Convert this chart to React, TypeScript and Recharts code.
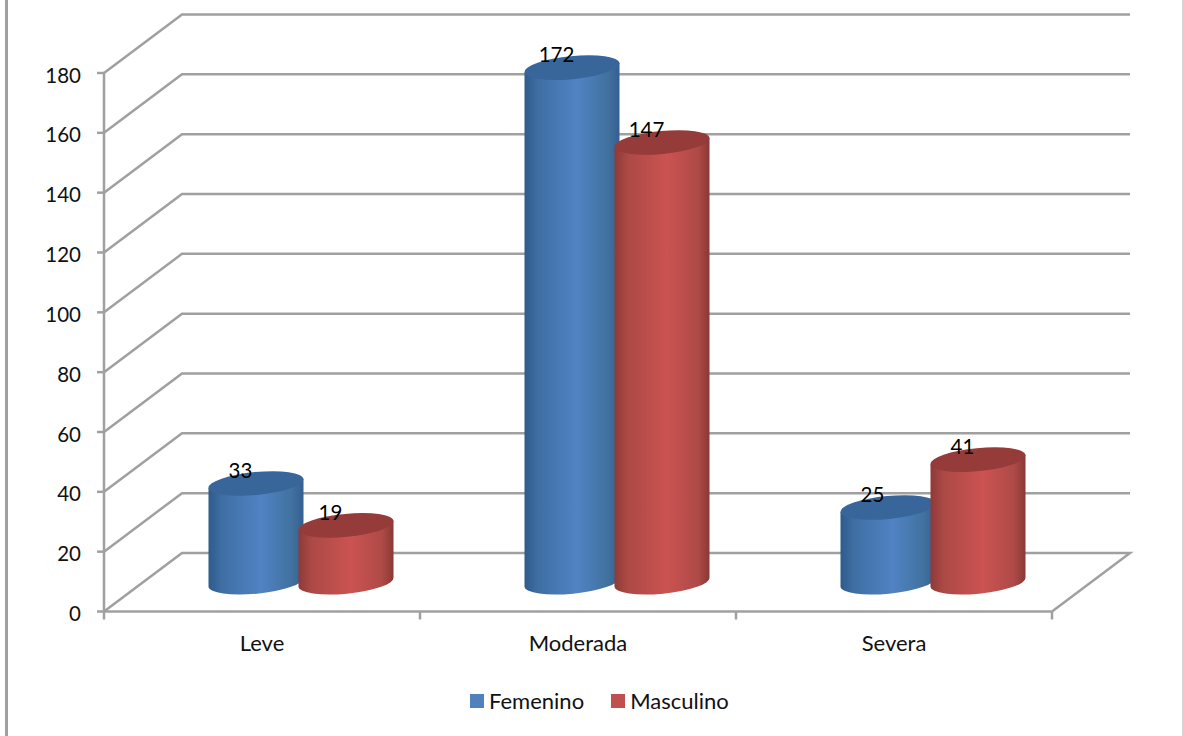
import React from "react";
import { Bar, BarChart, CartesianGrid, LabelList, Legend, XAxis, YAxis } from "recharts";

// ----------------------------- Data -----------------------------
const categories = ["Leve", "Moderada", "Severa"];
const femenino = [33, 172, 25];
const masculino = [19, 147, 41];
const yTicks = [0, 20, 40, 60, 80, 100, 120, 140, 160, 180];

const chartData = categories.map((name, i) => ({
  name,
  Femenino: femenino[i],
  Masculino: masculino[i],
}));

// ----------------------------- Look -----------------------------
const FONT = "Lato, 'Open Sans', sans-serif";
const NUM_SIZE = 20.5;
const TEXT_SIZE = 22;
const LINE = "#a0a0a0";
const LINE_W = 2.5;
const BLUE = "#4f81bd";
const RED = "#c0504d";

// fake 3D: the back wall sits this far up and to the right of the front plane
const DEPTH_X = 78;
const DEPTH_Y = 58.5;
const PLOT_LEFT = 104;
const PLOT_RIGHT = 1052;
const PLOT_TOP = 73;
const PLOT_BOTTOM = 611.5;
const BAND = (PLOT_RIGHT - PLOT_LEFT) / categories.length;
const TILT = 5.5; // degrees

// ----------------------------- Shapes -----------------------------
function GridLine(props: any) {
  const { x1, x2, y1 } = props;
  const backY = y1 - DEPTH_Y;
  const isFloor = Math.abs(y1 - PLOT_BOTTOM) < 1;
  const pts = [`${x1},${y1}`, `${x1 + DEPTH_X},${backY}`, `${x2 + DEPTH_X},${backY}`];
  if (isFloor) pts.push(`${x2},${y1}`);
  return <polyline points={pts.join(" ")} fill="none" stroke={LINE} strokeWidth={LINE_W} />;
}

function Cylinder(props: any) {
  const { x, y, width, height, fill } = props;
  const cx = x + width / 2 + DEPTH_X / 2;
  const topY = y - DEPTH_Y / 2;
  const botY = y + height - DEPTH_Y / 2;
  const rad = (TILT * Math.PI) / 180;
  const rx = width / 2 / Math.cos(rad);
  const ry = 11.5;
  const dx = rx * Math.cos(rad);
  const dy = rx * Math.sin(rad);
  const isBlue = fill === BLUE;
  const body =
    `M${cx - dx},${topY + dy} L${cx - dx},${botY + dy} ` +
    `A${rx},${ry} ${-TILT} 0 0 ${cx + dx},${botY - dy} ` +
    `L${cx + dx},${topY - dy} Z`;
  return (
    <g>
      <path d={body} fill={`url(#${isBlue ? "bodyBlue" : "bodyRed"})`} />
      <ellipse
        cx={cx}
        cy={topY}
        rx={rx}
        ry={ry}
        transform={`rotate(${-TILT} ${cx} ${topY})`}
        fill={isBlue ? "#38669a" : "#953b39"}
      />
    </g>
  );
}

function BarValue(props: any) {
  const { x, y, width, value } = props;
  return (
    <text
      x={x + width / 2 + DEPTH_X / 2 - 15.5}
      y={y - DEPTH_Y / 2 - 13.5}
      textAnchor="middle"
      dominantBaseline="central"
      fontFamily={FONT}
      fontSize={NUM_SIZE}
      fill="#000"
    >
      {value}
    </text>
  );
}

function CategoryTick(props: any) {
  const { x, payload, index } = props;
  const left = x - BAND / 2;
  const right = x + BAND / 2;
  return (
    <g>
      <line x1={left} x2={left} y1={PLOT_BOTTOM} y2={PLOT_BOTTOM + 8} stroke={LINE} strokeWidth={LINE_W} />
      {index === categories.length - 1 && (
        <line x1={right} x2={right} y1={PLOT_BOTTOM} y2={PLOT_BOTTOM + 8} stroke={LINE} strokeWidth={LINE_W} />
      )}
      <text
        x={x}
        y={PLOT_BOTTOM + 31}
        textAnchor="middle"
        dominantBaseline="central"
        fontFamily={FONT}
        fontSize={TEXT_SIZE}
        fill="#111"
      >
        {payload.value}
      </text>
    </g>
  );
}

function ValueTick(props: any) {
  const { x, y, payload } = props;
  return (
    <text x={x} y={y + 1.5} textAnchor="end" dominantBaseline="central" fontFamily={FONT} fontSize={NUM_SIZE} fill="#111">
      {payload.value}
    </text>
  );
}

function LegendRow({ payload }: any) {
  return (
    <div style={{ display: "flex", alignItems: "center", fontFamily: FONT, fontSize: TEXT_SIZE, color: "#111" }}>
      {(payload || []).map((p: any, i: number) => (
        <div key={p.value} style={{ display: "flex", alignItems: "center", marginLeft: i ? 27 : 0 }}>
          <span style={{ width: 14, height: 14, background: p.color, marginRight: 5, display: "inline-block" }} />
          <span>{p.value}</span>
        </div>
      ))}
    </div>
  );
}

// ----------------------------- Chart -----------------------------
export default function App() {
  return (
    <div style={{ position: "absolute", left: 0, top: 0, width: 1184, height: 736, background: "#fff", overflow: "hidden" }}>
      <div style={{ position: "absolute", left: 5, top: 0, width: 2.5, height: 736, background: "#a0a0a0" }} />
      <div style={{ position: "absolute", left: 1182, top: 0, width: 2, height: 736, background: "#d4d4d4" }} />
      <BarChart
        width={1184}
        height={736}
        data={chartData}
        margin={{ top: PLOT_TOP, right: 1184 - PLOT_RIGHT, bottom: 736 - PLOT_BOTTOM - 40, left: PLOT_LEFT - 70 }}
        barCategoryGap={65.5}
        barGap={-5}
      >
        <defs>
          <linearGradient id="bodyBlue" x1="0" y1="0" x2="1" y2="0">
            <stop offset="0%" stopColor="#2f5a8c" />
            <stop offset="14%" stopColor="#3f6ea3" />
            <stop offset="55%" stopColor="#5083c4" />
            <stop offset="88%" stopColor="#41719f" />
            <stop offset="100%" stopColor="#345f91" />
          </linearGradient>
          <linearGradient id="bodyRed" x1="0" y1="0" x2="1" y2="0">
            <stop offset="0%" stopColor="#8e3a38" />
            <stop offset="14%" stopColor="#ac4946" />
            <stop offset="55%" stopColor="#cb5351" />
            <stop offset="88%" stopColor="#ae4a47" />
            <stop offset="100%" stopColor="#8a3836" />
          </linearGradient>
        </defs>
        <CartesianGrid vertical={false} horizontal={(p: any) => <GridLine key={p.key} {...p} />} />
        <XAxis
          dataKey="name"
          height={40}
          interval={0}
          axisLine={{ stroke: LINE, strokeWidth: LINE_W }}
          tickLine={false}
          tick={(p: any) => <CategoryTick {...p} />}
        />
        <YAxis
          width={70}
          domain={[0, 180]}
          ticks={yTicks}
          interval={0}
          tickSize={7}
          tickMargin={16}
          axisLine={{ stroke: LINE, strokeWidth: LINE_W }}
          tickLine={{ stroke: LINE, strokeWidth: LINE_W }}
          tick={(p: any) => <ValueTick {...p} />}
        />
        <Legend
          layout="vertical"
          align="center"
          verticalAlign="middle"
          content={(p: any) => <LegendRow {...p} />}
          wrapperStyle={{ position: "absolute", left: 470, top: 687, width: 320, height: 28 }}
        />
        <Bar dataKey="Femenino" fill={BLUE} isAnimationActive={false} shape={(p: any) => <Cylinder {...p} />}>
          <LabelList dataKey="Femenino" content={(p: any) => <BarValue {...p} />} />
        </Bar>
        <Bar dataKey="Masculino" fill={RED} isAnimationActive={false} shape={(p: any) => <Cylinder {...p} />}>
          <LabelList dataKey="Masculino" content={(p: any) => <BarValue {...p} />} />
        </Bar>
      </BarChart>
    </div>
  );
}
